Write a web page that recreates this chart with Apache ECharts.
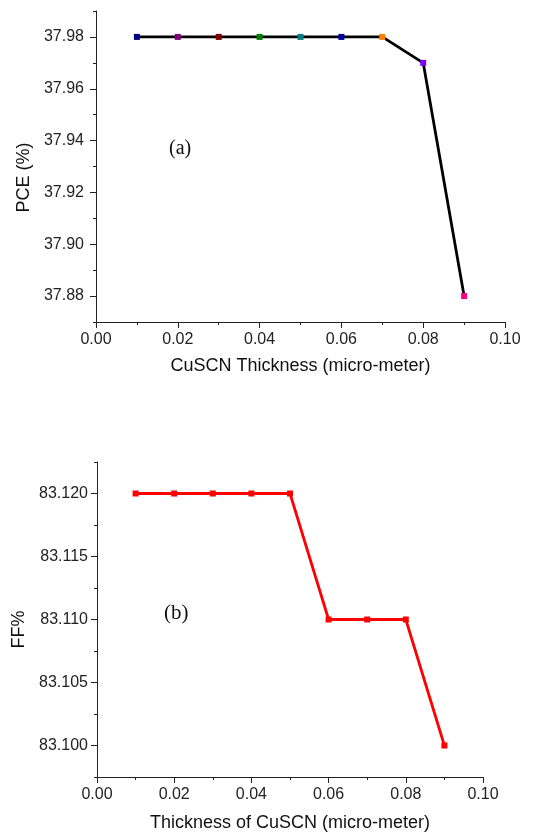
<!DOCTYPE html>
<html>
<head>
<meta charset="utf-8">
<script src="https://cdn.jsdelivr.net/npm/echarts@6/dist/echarts.min.js"></script>
<style>html,body{margin:0;padding:0;background:#fff;}#c{width:558px;height:834px;}</style>
</head>
<body>
<div id="c"></div>
<script>
const thickness = [0.01, 0.02, 0.03, 0.04, 0.05, 0.06, 0.07, 0.08, 0.09];
const pceValues = [37.98, 37.98, 37.98, 37.98, 37.98, 37.98, 37.98, 37.97, 37.88];
const pceMarkerColors = ['#000080', '#800080', '#800000', '#008000', '#008080', '#0000a0', '#ff8000', '#8000ff', '#ff0080'];
const ffValues = [83.120, 83.120, 83.120, 83.120, 83.120, 83.110, 83.110, 83.110, 83.100];
const pceTickLabels = [37.88, 37.90, 37.92, 37.94, 37.96, 37.98];
const pceMinorTicks = [37.87, 37.89, 37.91, 37.93, 37.95, 37.97, 37.99];
const ffTickLabels = [83.100, 83.105, 83.110, 83.115, 83.120];
const ffMinorTicks = [83.0975, 83.1025, 83.1075, 83.1125, 83.1175, 83.1225];
const xTickLabels = [0.00, 0.02, 0.04, 0.06, 0.08, 0.10];

const FONT = '"Liberation Sans", Arial, sans-serif';
const axisCol = '#222';

function xMain(grid, name, gap) {
  return {
    type: 'value', gridIndex: grid, min: 0, max: 0.1, interval: 0.02,
    name: name, nameLocation: 'middle', nameGap: gap,
    nameTextStyle: { fontFamily: FONT, fontSize: 18, color: '#111' },
    axisLine: { show: true, lineStyle: { color: axisCol, width: 1 } },
    axisTick: { show: true, inside: false, length: 6, lineStyle: { color: axisCol } },
    minorTick: { show: true, splitNumber: 2, length: 3, lineStyle: { color: axisCol } },
    splitLine: { show: false }, minorSplitLine: { show: false },
    axisLabel: { fontFamily: FONT, fontSize: 16, color: '#222', margin: 10, customValues: xTickLabels, formatter: v => v.toFixed(2) }
  };
}
function yMain(grid, min, max, labels, dec, name, gap, margin, shift) {
  return {
    type: 'value', gridIndex: grid, min: min, max: max,
    name: name, nameLocation: 'middle', nameGap: gap,
    nameTextStyle: { fontFamily: FONT, fontSize: 18, color: '#111', padding: [0, shift, 0, 0] },
    axisLine: { show: true, lineStyle: { color: axisCol, width: 1 } },
    axisTick: { show: true, length: 6, customValues: labels, lineStyle: { color: axisCol } },
    axisLabel: { fontFamily: FONT, fontSize: 16, color: '#222', margin: margin, customValues: labels, formatter: v => v.toFixed(dec) },
    splitLine: { show: false }
  };
}
function yMinor(grid, min, max, ticks) {
  return {
    type: 'value', gridIndex: grid, min: min, max: max, position: 'left',
    axisLine: { show: false },
    axisTick: { show: true, length: 3, customValues: ticks, lineStyle: { color: axisCol } },
    axisLabel: { show: false, customValues: ticks },
    splitLine: { show: false }
  };
}

const chart = echarts.init(document.getElementById('c'));
chart.setOption({
  backgroundColor: '#fff',
  animation: false,
  grid: [
    { left: 96, top: 11, width: 409, height: 311 },
    { left: 97, top: 462, width: 386, height: 315 }
  ],
  xAxis: [
    xMain(0, 'CuSCN Thickness (micro-meter)', 35),
    xMain(1, 'Thickness of CuSCN (micro-meter)', 37)
  ],
  yAxis: [
    yMain(0, 37.87, 37.99, pceTickLabels, 2, 'PCE (%)', 63, 12, 22),
    yMinor(0, 37.87, 37.99, pceMinorTicks),
    yMain(1, 83.0975, 83.1225, ffTickLabels, 3, 'FF%', 69, 9, 20),
    yMinor(1, 83.0975, 83.1225, ffMinorTicks)
  ],
  graphic: [
    { type: 'text', left: 169, top: 139, style: { text: '(a)', font: '20px "Liberation Serif", "Times New Roman", serif', fill: '#111' } },
    { type: 'text', left: 164, top: 603, style: { text: '(b)', font: '21px "Liberation Serif", "Times New Roman", serif', fill: '#111' } }
  ],
  series: [
    {
      type: 'line', xAxisIndex: 0, yAxisIndex: 0,
      data: thickness.map((x, i) => ({ value: [x, pceValues[i]], itemStyle: { color: pceMarkerColors[i] } })),
      symbol: 'rect', symbolSize: 6,
      lineStyle: { color: '#000', width: 2.8 },
      itemStyle: { borderWidth: 0 }
    },
    {
      type: 'line', xAxisIndex: 1, yAxisIndex: 2,
      data: thickness.map((x, i) => [x, ffValues[i]]),
      symbol: 'rect', symbolSize: 6,
      lineStyle: { color: '#ff0000', width: 2.8 },
      itemStyle: { color: '#ff0000', borderWidth: 0 }
    }
  ]
});
</script>
</body>
</html>
